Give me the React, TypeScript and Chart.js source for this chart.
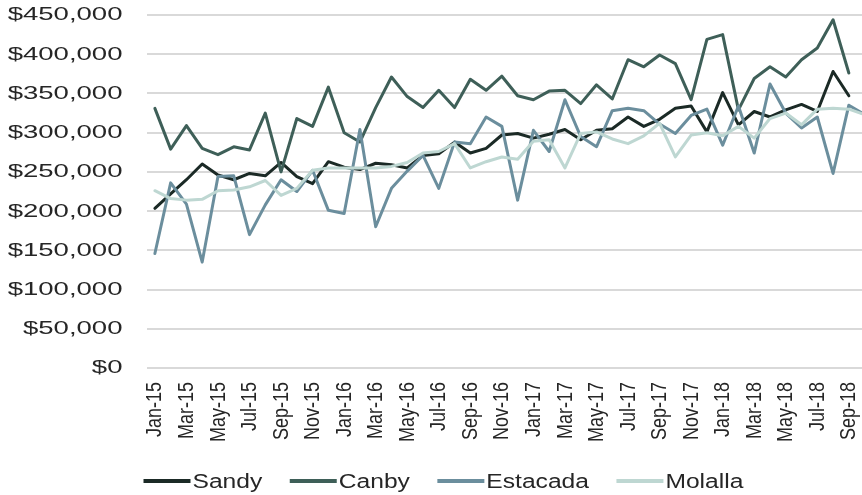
import React, { useEffect, useRef } from "react";
import { Chart, registerables } from "chart.js";

Chart.register(...registerables);

// Monthly median sale prices by city, Jan-15 through Oct-18
const months = [
  "Jan-15", "Feb-15", "Mar-15", "Apr-15", "May-15", "Jun-15", "Jul-15", "Aug-15", "Sep-15", "Oct-15", "Nov-15", "Dec-15",
  "Jan-16", "Feb-16", "Mar-16", "Apr-16", "May-16", "Jun-16", "Jul-16", "Aug-16", "Sep-16", "Oct-16", "Nov-16", "Dec-16",
  "Jan-17", "Feb-17", "Mar-17", "Apr-17", "May-17", "Jun-17", "Jul-17", "Aug-17", "Sep-17", "Oct-17", "Nov-17", "Dec-17",
  "Jan-18", "Feb-18", "Mar-18", "Apr-18", "May-18", "Jun-18", "Jul-18", "Aug-18", "Sep-18", "Oct-18",
];

const sandy = [
  203600, 222000, 240000, 260000, 246000, 240000, 248000, 245000, 262000, 244000, 235000, 263000,
  256000, 253000, 261000, 259000, 255000, 271000, 273000, 288000, 274000, 280000, 297000, 299000,
  293000, 298000, 304000, 291000, 303000, 305000, 320000, 308000, 317000, 331000, 334000, 301000,
  351000, 310000, 327000, 320000, 329000, 336000, 327000, 378000, 347000, null,
];

const canby = [
  331000, 279000, 309000, 280000, 272000, 282000, 278000, 325000, 250000, 318000, 308000, 358000,
  300000, 288000, 332000, 371000, 346000, 332000, 354000, 332000, 368000, 354000, 372000, 347000,
  342000, 353000, 354000, 337000, 361000, 343000, 393000, 384000, 399000, 388000, 342000, 419000,
  425000, 329000, 369000, 384000, 371000, 393000, 408000, 444000, 376000, null,
];

const estacada = [
  146000, 236000, 209000, 135000, 244000, 245000, 170000, 208000, 240000, 225000, 252000, 201000,
  197000, 304000, 180000, 229000, 251000, 271000, 229000, 288000, 286000, 320000, 308000, 214000,
  303000, 276000, 342000, 295000, 282000, 328000, 331000, 328000, 311000, 299000, 322000, 330000,
  284000, 334000, 274000, 362000, 325000, 306000, 320000, 248000, 335000, 323000,
];

const molalla = [
  226000, 216000, 214000, 215000, 226000, 227000, 231000, 239000, 220000, 229000, 252000, 255000,
  255000, 255000, 255000, 257000, 262000, 274000, 276000, 286000, 255000, 263000, 269000, 266000,
  289000, 291000, 255000, 299000, 301000, 292000, 286000, 296000, 312000, 269000, 297000, 300000,
  296000, 308000, 293000, 318000, 325000, 310000, 330000, 331000, 330000, 323000,
];

const seriesNames = ["Sandy", "Canby", "Estacada", "Molalla"];
const seriesColors = ["#1b2a26", "#3e5f58", "#6b8e9d", "#bed7d2"];

const yMax = 450000;
const yStep = 50000;

const TEXT_COLOR = "#262626";
const FONT = '"Liberation Sans", Arial, sans-serif';

const formatDollars = (v: number) => "$" + v.toLocaleString("en-US");

// Draws axis labels and the legend with a horizontally widened typeface.
const widenedText = {
  id: "widenedText",
  afterDraw(chart: any) {
    const { ctx, chartArea } = chart;
    const xs = chart.scales.x;
    const ys = chart.scales.y;
    ctx.save();
    ctx.fillStyle = TEXT_COLOR;

    // value axis labels
    ctx.font = `18px ${FONT}`;
    ctx.textAlign = "right";
    ctx.textBaseline = "middle";
    ys.ticks.forEach((t: any, i: number) => {
      const py = ys.getPixelForTick(i);
      ctx.save();
      ctx.translate(chartArea.left - 24.5, py + 0.5);
      ctx.scale(1.53, 1);
      ctx.fillText(formatDollars(t.value), 0, 0);
      ctx.restore();
    });

    // category labels, every second month, rotated
    ctx.font = `18px ${FONT}`;
    ctx.textAlign = "right";
    ctx.textBaseline = "middle";
    months.forEach((m, i) => {
      if (i % 2 !== 0) return;
      const px = xs.getPixelForValue(i);
      ctx.save();
      ctx.translate(px + 0.5, chartArea.bottom + 14);
      ctx.scale(1.22, 1);
      ctx.rotate(-Math.PI / 2);
      ctx.fillText(m, 0, 0);
      ctx.restore();
    });

    // legend
    const legendY = chartArea.bottom + 113;
    const lineLen = 47;
    const gap = 2;
    const itemGap = 27.5;
    const stretch = 1.23;
    ctx.font = `20px ${FONT}`;
    ctx.textAlign = "left";
    ctx.textBaseline = "middle";
    let lx = 143.5;
    chart.data.datasets.forEach((ds: any) => {
      ctx.strokeStyle = ds.borderColor;
      ctx.lineWidth = 4;
      ctx.beginPath();
      ctx.moveTo(lx, legendY);
      ctx.lineTo(lx + lineLen, legendY);
      ctx.stroke();
      const tx = lx + lineLen + gap;
      ctx.save();
      ctx.translate(tx, legendY + 1);
      ctx.scale(stretch, 1);
      ctx.fillText(ds.label, 0, 0);
      ctx.restore();
      lx = tx + ctx.measureText(ds.label).width * stretch + itemGap;
    });

    ctx.restore();
  },
};

export default function App() {
  const canvasRef = useRef<HTMLCanvasElement | null>(null);

  useEffect(() => {
    const canvas = canvasRef.current;
    if (!canvas) return;
    const seriesData = [sandy, canby, estacada, molalla];
    const chart = new Chart(canvas, {
      type: "line",
      data: {
        labels: months,
        datasets: seriesData.map((d, i) => ({
          label: seriesNames[i],
          data: d,
          borderColor: seriesColors[i],
          backgroundColor: seriesColors[i],
          borderWidth: 3,
          pointRadius: 0,
          tension: 0,
          borderJoinStyle: "round" as const,
          borderCapStyle: "round" as const,
          spanGaps: false,
          order: seriesData.length - i,
        })),
      },
      options: {
        responsive: false,
        animation: false,
        layout: { padding: { top: 15, right: 1.5, left: 0, bottom: 0 } },
        plugins: {
          legend: { display: false },
          tooltip: { enabled: false },
        },
        scales: {
          x: {
            type: "category",
            offset: true,
            grid: { display: false, drawTicks: false },
            border: { display: false },
            ticks: { display: false },
            afterFit: (s: any) => {
              s.height = 127;
            },
          },
          y: {
            min: 0,
            max: yMax,
            ticks: { display: false, stepSize: yStep },
            grid: { color: "#d9d9d9", lineWidth: 2, drawTicks: false },
            border: { display: false },
            afterFit: (s: any) => {
              s.width = 147;
            },
          },
        },
      },
      plugins: [widenedText],
    });
    return () => chart.destroy();
  }, []);

  return (
    <div
      style={{
        position: "absolute",
        left: 0,
        top: 0,
        width: 862,
        height: 495,
        overflow: "hidden",
        background: "#ffffff",
      }}
    >
      <canvas
        ref={canvasRef}
        width={874}
        height={495}
        style={{ width: 874, height: 495, display: "block" }}
      />
    </div>
  );
}
